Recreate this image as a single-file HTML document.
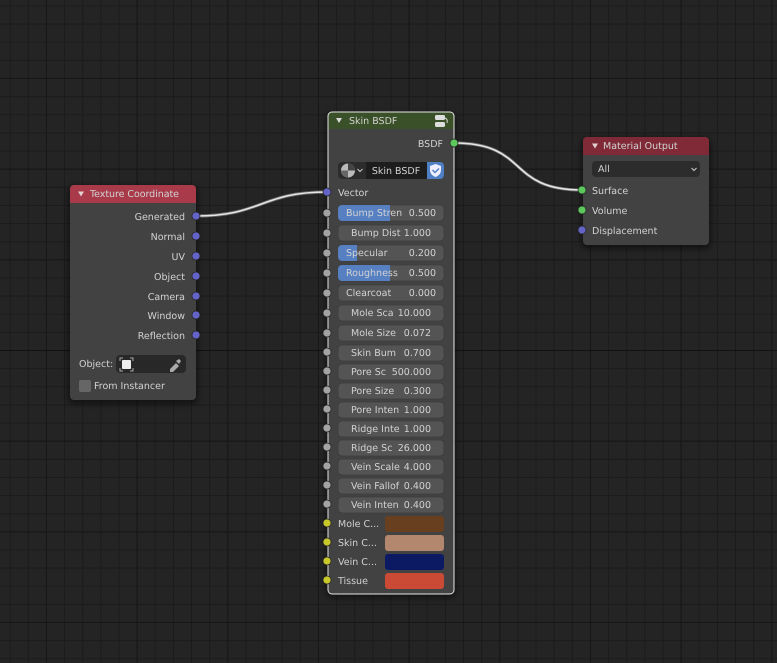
<!DOCTYPE html>
<html><head><meta charset="utf-8"><style>
html,body{margin:0;padding:0;background:#232323;width:777px;height:663px;overflow:hidden}
svg{display:block}
text{font-family:"DejaVu Sans","Liberation Sans",sans-serif;font-size:9.5px;fill:#d2d2d2;text-rendering:geometricPrecision}
.r{text-anchor:end}.c{text-anchor:middle}
.w{fill:#545454;stroke:#3c3c3c;stroke-width:.8}
.g{fill:#a3a3a3;stroke:#222;stroke-width:.7}
.b{fill:#6363c8;stroke:#222;stroke-width:.7}
.y{fill:#c8c82a;stroke:#222;stroke-width:.7}
.n{fill:#5cc85c;stroke:#222;stroke-width:.7}
</style></head><body>
<svg width="777" height="663" viewBox="0 0 777 663" xmlns="http://www.w3.org/2000/svg">
<defs>
<pattern id="m" x="9.700" y="5.500" width="18.133" height="18.133" patternUnits="userSpaceOnUse"><path d="M0.500 0V18.133M0 0.500H18.133" stroke="#1b1b1b" stroke-width="1" fill="none"/></pattern>
<pattern id="M" x="46" y="78" width="90.670" height="90.670" patternUnits="userSpaceOnUse"><path d="M0.500 0V90.670M0 0.500H90.670" stroke="#161616" stroke-width="1" fill="none"/></pattern>
<filter id="s" x="-20%" y="-20%" width="140%" height="140%"><feGaussianBlur stdDeviation="3"/></filter>
</defs>
<rect width="777" height="663" fill="#242424"/>
<rect width="777" height="663" fill="url(#m)"/>
<rect width="777" height="663" fill="url(#M)"/>
<rect x="0" y="350" width="777" height="1" fill="#111"/>

<!-- shadows -->
<rect x="68" y="186" width="130" height="218" rx="6" fill="#000" opacity=".45" filter="url(#s)"/>
<rect x="326" y="113" width="130" height="485" rx="6" fill="#000" opacity=".45" filter="url(#s)"/>
<rect x="581" y="138" width="130" height="111" rx="6" fill="#000" opacity=".45" filter="url(#s)"/>

<!-- links -->
<g fill="none" stroke-linecap="round">
<path d="M196 216C262 216 261 192 327 192" stroke="#6a6a6a" stroke-width="3.200"/>
<path d="M196 216C262 216 261 192 327 192" stroke="#e6e6e6" stroke-width="1.600"/>
<path d="M454 143C530 143 506 190 582 190" stroke="#6a6a6a" stroke-width="3.200"/>
<path d="M454 143C530 143 506 190 582 190" stroke="#e6e6e6" stroke-width="1.600"/>
</g>

<!-- Texture Coordinate -->
<rect x="70" y="185" width="126" height="215" rx="4" fill="#454545" fill-opacity=".96"/>
<path d="M70 203V189a4 4 0 0 1 4-4H192a4 4 0 0 1 4 4V203Z" fill="#a83a4a"/>
<path d="M78 191.500h6l-3 5Z" fill="#e0d0d0"/>
<text x="90" y="197" textLength="89">Texture Coordinate</text>
<text class="r" x="185" y="220">Generated</text>
<text class="r" x="185" y="240">Normal</text>
<text class="r" x="185" y="260">UV</text>
<text class="r" x="185" y="280">Object</text>
<text class="r" x="185" y="300">Camera</text>
<text class="r" x="185" y="319">Window</text>
<text class="r" x="185" y="339">Reflection</text>
<circle class="b" cx="196" cy="216" r="4"/><circle class="b" cx="196" cy="236" r="4"/><circle class="b" cx="196" cy="256" r="4"/><circle class="b" cx="196" cy="276" r="4"/><circle class="b" cx="196" cy="296" r="4"/><circle class="b" cx="196" cy="315" r="4"/><circle class="b" cx="196" cy="335" r="4"/>
<text x="79" y="367">Object:</text>
<rect x="116" y="355" width="70" height="18" rx="4" fill="#282828"/>
<rect x="122" y="360" width="9" height="9" rx="1" fill="#eee"/>
<path d="M120 361v-3h3M130 358h3v3M133 368v3h-3M123 371h-3v-3" stroke="#aaa" fill="none" stroke-width="1"/>
<path d="M170 369l6-6 3 3-6 6h-3ZM176 361l3-2 2 2-2 3Z" fill="#aaa"/>
<rect x="79" y="380" width="12" height="12" rx="2" fill="#666"/>
<text x="94" y="389">From Instancer</text>

<!-- Skin BSDF -->
<rect x="328" y="112" width="126" height="482" rx="4" fill="#454545" fill-opacity=".96"/>
<path d="M328 129V116a4 4 0 0 1 4-4H450a4 4 0 0 1 4 4V129Z" fill="#3a5028"/>
<rect x="328" y="112" width="126" height="482" rx="4" fill="none" stroke="#e8e8e8" stroke-width="1"/>
<path d="M336 118h6l-3 5Z" fill="#d8d8d8"/>
<text x="349" y="124">Skin BSDF</text>
<rect x="435" y="115" width="10" height="5" rx="1.500" fill="#ddd"/><rect x="435" y="122" width="10" height="5" rx="1.500" fill="#ddd"/><path d="M445 118q3 1 2 5" stroke="#ddd" fill="none"/>
<text class="r" x="443" y="147">BSDF</text>
<rect x="338" y="162" width="106" height="17" rx="4" fill="#2c2c2c"/>
<rect x="366" y="162" width="62" height="17" fill="#1d1d1d"/>
<path d="M427 162h13a4 4 0 0 1 4 4v9a4 4 0 0 1-4 4h-13Z" fill="#4f80c6"/>
<circle cx="348" cy="170.500" r="7" fill="#bbb"/><path d="M348 170.500V163.500A7 7 0 0 1 355 170.500Z" fill="#444"/><path d="M348 170.500H341A7 7 0 0 0 348 177.500Z" fill="#666"/>
<path d="M357.500 169l2.500 2.500 2.500-2.500" stroke="#ccc" fill="none"/>
<text class="c" x="396" y="174">Skin BSDF</text>
<path d="M435.500 164l5.500 2v4c0 4-3 6-5.500 7-2.500-1-5.500-3-5.500-7v-4Z" fill="#eef"/>
<path d="M432.500 170l2.500 2.500 4-4" stroke="#4f80c6" stroke-width="1.500" fill="none"/>
<text x="338" y="196">Vector</text>

<rect class="w" x="338" y="205" width="106" height="16" rx="4"/>
<path d="M342 205h48v16h-48a4 4 0 0 1-4-4v-8a4 4 0 0 1 4-4Z" fill="#5680c2"/>
<rect class="w" x="338" y="225" width="106" height="16" rx="4"/>
<rect class="w" x="338" y="245" width="106" height="16" rx="4"/>
<path d="M342 245h15v16h-15a4 4 0 0 1-4-4v-8a4 4 0 0 1 4-4Z" fill="#5680c2"/>
<rect class="w" x="338" y="265" width="106" height="16" rx="4"/>
<path d="M342 265h48v16h-48a4 4 0 0 1-4-4v-8a4 4 0 0 1 4-4Z" fill="#5680c2"/>
<rect class="w" x="338" y="285" width="106" height="16" rx="4"/>
<rect class="w" x="338" y="305" width="106" height="16" rx="4"/>
<rect class="w" x="338" y="325" width="106" height="16" rx="4"/>
<rect class="w" x="338" y="345" width="106" height="16" rx="4"/>
<rect class="w" x="338" y="364" width="106" height="16" rx="4"/>
<rect class="w" x="338" y="383" width="106" height="16" rx="4"/>
<rect class="w" x="338" y="402" width="106" height="16" rx="4"/>
<rect class="w" x="338" y="421" width="106" height="16" rx="4"/>
<rect class="w" x="338" y="440" width="106" height="16" rx="4"/>
<rect class="w" x="338" y="459" width="106" height="16" rx="4"/>
<rect class="w" x="338" y="478" width="106" height="16" rx="4"/>
<rect class="w" x="338" y="497" width="106" height="16" rx="4"/>

<text x="346" y="216">Bump Stren</text><text class="r" x="436" y="216">0.500</text>
<text x="351" y="236">Bump Dist</text><text class="r" x="431" y="236">1.000</text>
<text x="346" y="256">Specular</text><text class="r" x="436" y="256">0.200</text>
<text x="346" y="276">Roughness</text><text class="r" x="436" y="276">0.500</text>
<text x="346" y="296">Clearcoat</text><text class="r" x="436" y="296">0.000</text>
<text x="351" y="316">Mole Sca</text><text class="r" x="431" y="316">10.000</text>
<text x="351" y="336">Mole Size</text><text class="r" x="431" y="336">0.072</text>
<text x="351" y="356">Skin Bum</text><text class="r" x="431" y="356">0.700</text>
<text x="351" y="375">Pore Sc</text><text class="r" x="431" y="375">500.000</text>
<text x="351" y="394">Pore Size</text><text class="r" x="431" y="394">0.300</text>
<text x="351" y="413">Pore Inten</text><text class="r" x="431" y="413">1.000</text>
<text x="351" y="432">Ridge Inte</text><text class="r" x="431" y="432">1.000</text>
<text x="351" y="451">Ridge Sc</text><text class="r" x="431" y="451">26.000</text>
<text x="351" y="470">Vein Scale</text><text class="r" x="431" y="470">4.000</text>
<text x="351" y="489">Vein Fallof</text><text class="r" x="431" y="489">0.400</text>
<text x="351" y="508">Vein Inten</text><text class="r" x="431" y="508">0.400</text>

<text x="338" y="527">Mole C...</text><rect x="385" y="516" width="59" height="16" rx="3" fill="#683f1f"/>
<text x="338" y="546">Skin C...</text><rect x="385" y="535" width="59" height="16" rx="3" fill="#b3876e"/>
<text x="338" y="565">Vein C...</text><rect x="385" y="554" width="59" height="16" rx="3" fill="#0c1a64"/>
<text x="338" y="584">Tissue</text><rect x="385" y="573" width="59" height="16" rx="3" fill="#cb4a35"/>

<circle class="n" cx="454" cy="143" r="4"/>
<circle class="b" cx="327" cy="192" r="4"/>
<circle class="g" cx="327" cy="213" r="4"/><circle class="g" cx="327" cy="233" r="4"/><circle class="g" cx="327" cy="253" r="4"/><circle class="g" cx="327" cy="273" r="4"/><circle class="g" cx="327" cy="293" r="4"/><circle class="g" cx="327" cy="313" r="4"/><circle class="g" cx="327" cy="333" r="4"/><circle class="g" cx="327" cy="352" r="4"/><circle class="g" cx="327" cy="371" r="4"/><circle class="g" cx="327" cy="390" r="4"/><circle class="g" cx="327" cy="409" r="4"/><circle class="g" cx="327" cy="428" r="4"/><circle class="g" cx="327" cy="447" r="4"/><circle class="g" cx="327" cy="466" r="4"/><circle class="g" cx="327" cy="485" r="4"/><circle class="g" cx="327" cy="504" r="4"/>
<circle class="y" cx="327" cy="523" r="4"/><circle class="y" cx="327" cy="542" r="4"/><circle class="y" cx="327" cy="561" r="4"/><circle class="y" cx="327" cy="580" r="4"/>

<!-- Material Output -->
<rect x="583" y="137" width="126" height="108" rx="4" fill="#454545" fill-opacity=".96"/>
<path d="M583 155V141a4 4 0 0 1 4-4H705a4 4 0 0 1 4 4V155Z" fill="#7f2a36"/>
<path d="M592 143.500h6l-3 5Z" fill="#e0d0d0"/>
<text x="603" y="149">Material Output</text>
<rect x="592" y="161" width="108" height="16" rx="4" fill="#2c2c2c"/>
<text x="598" y="172">All</text>
<path d="M691.500 168l2.500 2.500 2.500-2.500" stroke="#ccc" fill="none"/>
<text x="592" y="194">Surface</text>
<text x="592" y="214">Volume</text>
<text x="592" y="234">Displacement</text>
<circle class="n" cx="582" cy="190" r="4"/><circle class="n" cx="582" cy="210" r="4"/><circle class="b" cx="582" cy="230" r="4"/>
</svg>
</body></html>
